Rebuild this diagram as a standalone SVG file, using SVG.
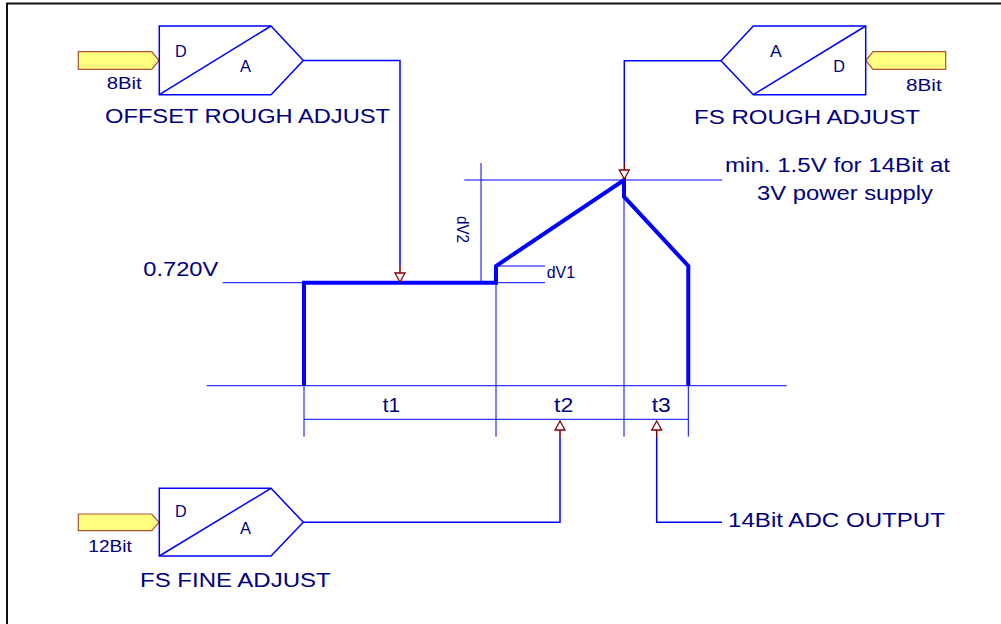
<svg xmlns="http://www.w3.org/2000/svg" width="1001" height="624" viewBox="0 0 1001 624">
<style>
  .txt { font-family: "Liberation Sans", Arial, sans-serif; fill: #000080; }
  .lbl { font-size: 20px; }
  .sm { font-size: 16px; }
  .bit { font-size: 17px; }
  .tt { font-size: 21px; }
  .dac { fill: #FFFFFF; stroke: #0000FF; stroke-width: 1.5; stroke-linejoin: miter; }
  .dline { fill: none; stroke: #0000FF; stroke-width: 1.5; }
  .bus { fill: #FFFF80; stroke: #B05030; stroke-width: 1.2; }
  .conn { fill: none; stroke: #0000FF; stroke-width: 1.5; }
  .dim { fill: none; stroke: #0000FF; stroke-width: 1; }
  .wave { fill: none; stroke: #0000FF; stroke-width: 4; stroke-linejoin: miter; }
</style>
<defs>
  <g id="arrowDown">
    <line x1="0" y1="-16" x2="0" y2="-9" stroke="#800000" stroke-width="1.5"/>
    <polygon points="-5,-9 5,-9 0,0" fill="#FFFFFF" stroke="#800000" stroke-width="1.3"/>
  </g>
</defs>
<rect width="1001" height="624" fill="#FFFFFF"/>
<path d="M7,624 V3.5 H1001" fill="none" stroke="#111111" stroke-width="2"/>

<g id="dac_offset_rough">
  <polygon class="bus" points="78.3,51.7 151.7,51.7 159,60.5 151.7,69.3 78.3,69.3"/>
  <polygon class="dac" points="159.3,26 271,26 303.3,60.5 271,94.7 159.3,94.7"/>
  <line class="dline" x1="159.3" y1="94.7" x2="271" y2="26"/>
  <text class="txt sm" x="175" y="56.7" textLength="11.7" lengthAdjust="spacingAndGlyphs">D</text>
  <text class="txt sm" x="240" y="71.7" textLength="11" lengthAdjust="spacingAndGlyphs">A</text>
  <text class="txt bit" x="106.7" y="89.3" textLength="35" lengthAdjust="spacingAndGlyphs">8Bit</text>
  <text class="txt lbl" x="105" y="123.3" textLength="285" lengthAdjust="spacingAndGlyphs">OFFSET ROUGH ADJUST</text>
</g>

<g id="dac_fs_rough">
  <polygon class="bus" points="945.7,51.7 873,51.7 865.7,60.5 873,69.3 945.7,69.3"/>
  <polygon class="dac" points="865.7,26 753.3,26 721,60.7 753.3,94.7 865.7,94.7"/>
  <line class="dline" x1="753.3" y1="94.7" x2="865.7" y2="26"/>
  <text class="txt sm" x="770" y="56.7" textLength="11.7" lengthAdjust="spacingAndGlyphs">A</text>
  <text class="txt sm" x="833.3" y="72.3" textLength="11.7" lengthAdjust="spacingAndGlyphs">D</text>
  <text class="txt bit" x="906" y="91" textLength="35.7" lengthAdjust="spacingAndGlyphs">8Bit</text>
  <text class="txt lbl" x="694" y="124.3" textLength="226" lengthAdjust="spacingAndGlyphs">FS ROUGH ADJUST</text>
</g>

<g id="dac_fs_fine">
  <polygon class="bus" points="78.3,514 151.7,514 159,522.3 151.7,530.7 78.3,530.7"/>
  <polygon class="dac" points="159.3,488.3 271,488.3 303.3,522.3 271,556 159.3,556"/>
  <line class="dline" x1="159.3" y1="556" x2="271" y2="488.3"/>
  <text class="txt sm" x="175" y="517.3" textLength="11.7" lengthAdjust="spacingAndGlyphs">D</text>
  <text class="txt sm" x="240" y="534.3" textLength="11" lengthAdjust="spacingAndGlyphs">A</text>
  <text class="txt bit" x="88.3" y="551.7" textLength="43.4" lengthAdjust="spacingAndGlyphs">12Bit</text>
  <text class="txt lbl" x="140" y="586.7" textLength="190.7" lengthAdjust="spacingAndGlyphs">FS FINE ADJUST</text>
</g>

<g id="waveform">
  <line class="dim" x1="206.7" y1="385.7" x2="786.7" y2="385.7"/>
  <line class="dim" x1="222.7" y1="282.7" x2="304" y2="282.7"/>
  <line class="dim" x1="496" y1="282.7" x2="545" y2="282.7"/>
  <line class="dim" x1="496" y1="266" x2="545" y2="266"/>
  <line class="dim" x1="481" y1="163" x2="481" y2="282.7"/>
  <line class="dim" x1="464.3" y1="180" x2="722" y2="180"/>
  <line class="dim" x1="304" y1="386" x2="304" y2="436.7"/>
  <line class="dim" x1="496" y1="266" x2="496" y2="436.7"/>
  <line class="dim" x1="624" y1="180" x2="624" y2="436.7"/>
  <line class="dim" x1="688.3" y1="386" x2="688.3" y2="436.7"/>
  <line class="dim" x1="304" y1="419.3" x2="688.3" y2="419.3"/>
  <path class="wave" d="M304,386 V282.7 H496 V266 L624,180 V196.7 L688.3,266 V386"/>
  <text class="txt lbl" x="143.3" y="275.7" textLength="75" lengthAdjust="spacingAndGlyphs">0.720V</text>
  <text class="txt sm" x="456.5" y="216" transform="rotate(90 456.5 216)" textLength="27" lengthAdjust="spacingAndGlyphs">dV2</text>
  <text class="txt sm" x="546.7" y="278.3" textLength="28.3" lengthAdjust="spacingAndGlyphs">dV1</text>
  <text class="txt tt" x="382.7" y="411.7" textLength="17.3" lengthAdjust="spacingAndGlyphs">t1</text>
  <text class="txt tt" x="554" y="411.7" textLength="19.3" lengthAdjust="spacingAndGlyphs">t2</text>
  <text class="txt tt" x="651.7" y="411.7" textLength="19" lengthAdjust="spacingAndGlyphs">t3</text>
  <text class="txt lbl" x="725" y="172" textLength="225" lengthAdjust="spacingAndGlyphs">min. 1.5V for 14Bit at</text>
  <text class="txt lbl" x="757" y="200" textLength="176" lengthAdjust="spacingAndGlyphs">3V power supply</text>
</g>

<g id="adc_output">
  <text class="txt lbl" x="728" y="527" textLength="217" lengthAdjust="spacingAndGlyphs">14Bit ADC OUTPUT</text>
</g>

<g id="connectors">
  <path class="conn" d="M303.3,60.5 H400 V266"/>
  <use href="#arrowDown" transform="translate(400,282)"/>
  <path class="conn" d="M721,60.7 H624.3 V163"/>
  <use href="#arrowDown" transform="translate(624.3,179)"/>
  <path class="conn" d="M303.3,522.3 H560 V437"/>
  <use href="#arrowDown" transform="translate(560,421) rotate(180)"/>
  <path class="conn" d="M722,522.3 H656.7 V437"/>
  <use href="#arrowDown" transform="translate(656.7,421) rotate(180)"/>
</g>
</svg>
